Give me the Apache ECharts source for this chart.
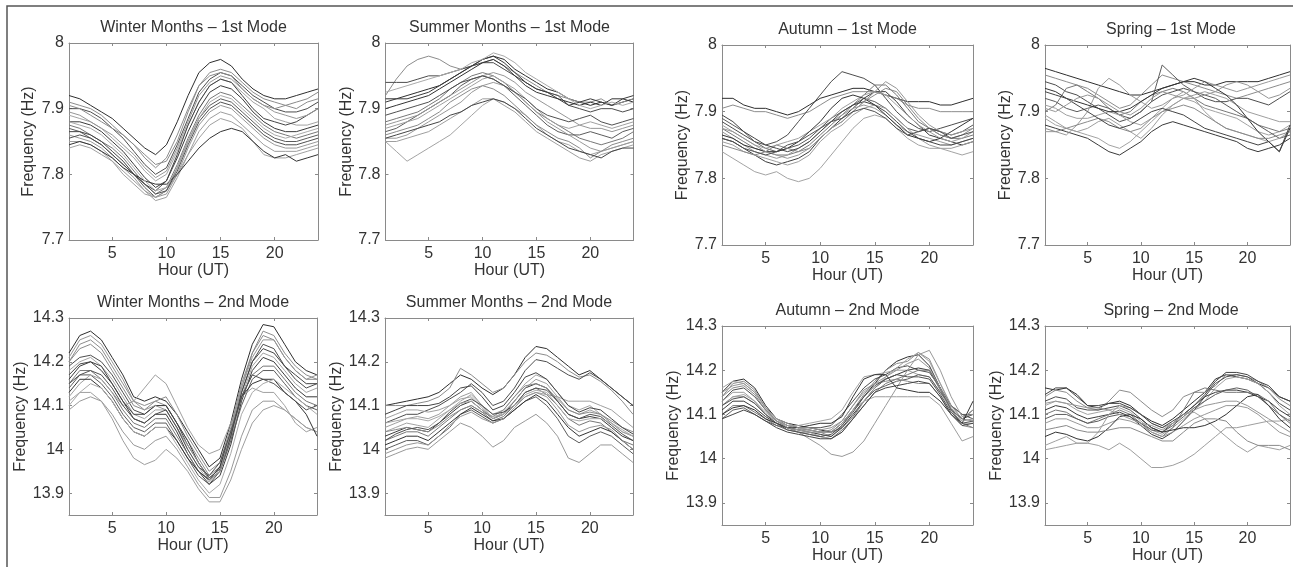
<!DOCTYPE html>
<html>
<head>
<meta charset="utf-8">
<title>Diurnal frequency variation - 1st and 2nd mode</title>
<script src="https://cdn.jsdelivr.net/npm/echarts@6/dist/echarts.min.js"></script>
<style>
html, body { margin: 0; padding: 0; background: #fff; }
#chart { width: 1293px; height: 567px; }
</style>
</head>
<body>
<div id="chart"></div>
<script>
// hour of day (UT)
var hours = [1, 2, 3, 4, 5, 6, 7, 8, 9, 10, 11, 12, 13, 14, 15, 16, 17, 18, 19, 20, 21, 22, 23, 24];

// Winter Months - 1st Mode (Hz)
var winter1st = [
  [7.92,7.915,7.905,7.895,7.885,7.87,7.855,7.84,7.83,7.845,7.88,7.92,7.955,7.97,7.975,7.965,7.945,7.93,7.92,7.915,7.915,7.92,7.925,7.93],
  [7.91,7.905,7.90,7.89,7.875,7.86,7.845,7.825,7.81,7.825,7.86,7.90,7.935,7.955,7.96,7.955,7.94,7.925,7.915,7.91,7.905,7.90,7.91,7.915],
  [7.90,7.90,7.895,7.885,7.87,7.855,7.835,7.815,7.80,7.81,7.845,7.885,7.925,7.945,7.955,7.95,7.935,7.92,7.91,7.90,7.895,7.895,7.90,7.91],
  [7.89,7.885,7.88,7.87,7.855,7.84,7.825,7.805,7.79,7.80,7.835,7.875,7.91,7.935,7.945,7.94,7.925,7.91,7.90,7.885,7.88,7.875,7.875,7.88],
  [7.88,7.88,7.875,7.865,7.85,7.835,7.815,7.795,7.78,7.79,7.825,7.865,7.90,7.925,7.935,7.93,7.915,7.895,7.88,7.87,7.865,7.865,7.87,7.875],
  [7.875,7.87,7.86,7.85,7.84,7.825,7.805,7.785,7.77,7.78,7.815,7.855,7.89,7.915,7.925,7.92,7.905,7.89,7.875,7.865,7.86,7.855,7.86,7.865],
  [7.87,7.865,7.855,7.845,7.83,7.815,7.80,7.78,7.765,7.775,7.81,7.85,7.885,7.905,7.915,7.91,7.895,7.88,7.865,7.855,7.85,7.85,7.855,7.86],
  [7.86,7.855,7.85,7.84,7.825,7.81,7.795,7.775,7.765,7.77,7.80,7.84,7.875,7.895,7.905,7.90,7.885,7.87,7.855,7.845,7.84,7.84,7.845,7.85],
  [7.85,7.85,7.845,7.835,7.82,7.805,7.79,7.775,7.76,7.765,7.795,7.83,7.865,7.885,7.895,7.89,7.875,7.86,7.845,7.835,7.835,7.835,7.84,7.845],
  [7.84,7.845,7.84,7.83,7.82,7.80,7.785,7.77,7.765,7.775,7.80,7.83,7.855,7.875,7.885,7.88,7.87,7.85,7.83,7.825,7.825,7.83,7.835,7.84],
  [7.845,7.85,7.845,7.835,7.825,7.81,7.80,7.79,7.785,7.785,7.80,7.82,7.84,7.855,7.865,7.87,7.865,7.85,7.835,7.825,7.83,7.82,7.825,7.83],
  [7.905,7.90,7.89,7.88,7.87,7.86,7.845,7.83,7.815,7.82,7.85,7.895,7.935,7.95,7.955,7.95,7.93,7.915,7.905,7.90,7.905,7.91,7.915,7.925],
  [7.865,7.865,7.86,7.85,7.835,7.82,7.80,7.785,7.775,7.79,7.83,7.875,7.91,7.935,7.945,7.94,7.92,7.90,7.885,7.88,7.875,7.88,7.89,7.90],
  [7.895,7.89,7.88,7.87,7.86,7.845,7.83,7.81,7.795,7.805,7.84,7.88,7.92,7.94,7.95,7.945,7.93,7.915,7.905,7.895,7.89,7.885,7.89,7.90],
  [7.855,7.86,7.855,7.845,7.83,7.815,7.80,7.785,7.77,7.775,7.805,7.845,7.88,7.90,7.91,7.905,7.89,7.875,7.86,7.85,7.845,7.845,7.85,7.855],
  [7.88,7.875,7.87,7.86,7.845,7.83,7.81,7.79,7.775,7.78,7.81,7.85,7.885,7.91,7.92,7.915,7.90,7.885,7.87,7.86,7.855,7.86,7.865,7.87]
];

// Summer Months - 1st Mode (Hz)
var summer1st = [
  [7.915,7.915,7.92,7.925,7.93,7.935,7.945,7.955,7.965,7.975,7.98,7.975,7.96,7.95,7.94,7.93,7.925,7.915,7.91,7.905,7.91,7.905,7.91,7.915],
  [7.92,7.945,7.965,7.975,7.98,7.975,7.965,7.96,7.965,7.97,7.975,7.965,7.955,7.945,7.935,7.925,7.92,7.915,7.91,7.91,7.915,7.905,7.91,7.915],
  [7.94,7.94,7.94,7.945,7.95,7.95,7.955,7.96,7.965,7.97,7.97,7.96,7.95,7.94,7.93,7.925,7.92,7.905,7.90,7.895,7.90,7.90,7.895,7.90],
  [7.85,7.835,7.82,7.83,7.84,7.85,7.86,7.875,7.89,7.905,7.915,7.91,7.90,7.89,7.875,7.86,7.85,7.845,7.835,7.83,7.835,7.84,7.845,7.85],
  [7.91,7.915,7.915,7.92,7.925,7.935,7.945,7.955,7.965,7.975,7.98,7.97,7.955,7.94,7.93,7.925,7.915,7.905,7.91,7.915,7.91,7.905,7.915,7.92],
  [7.88,7.885,7.89,7.895,7.905,7.915,7.93,7.94,7.95,7.955,7.95,7.94,7.925,7.91,7.895,7.885,7.875,7.865,7.855,7.85,7.845,7.85,7.855,7.865],
  [7.865,7.87,7.88,7.89,7.90,7.91,7.92,7.935,7.945,7.95,7.945,7.935,7.92,7.905,7.89,7.875,7.865,7.86,7.86,7.865,7.86,7.855,7.865,7.87],
  [7.855,7.855,7.86,7.87,7.88,7.89,7.90,7.91,7.925,7.935,7.94,7.935,7.925,7.91,7.895,7.88,7.87,7.86,7.85,7.84,7.835,7.84,7.845,7.85],
  [7.85,7.85,7.855,7.86,7.865,7.875,7.885,7.895,7.905,7.915,7.915,7.905,7.895,7.88,7.865,7.855,7.845,7.835,7.825,7.82,7.83,7.835,7.84,7.845],
  [7.87,7.875,7.88,7.885,7.895,7.905,7.915,7.925,7.935,7.945,7.95,7.94,7.93,7.915,7.90,7.885,7.875,7.87,7.875,7.88,7.875,7.87,7.875,7.88],
  [7.90,7.905,7.91,7.915,7.92,7.93,7.94,7.95,7.96,7.97,7.975,7.965,7.95,7.935,7.925,7.92,7.915,7.91,7.905,7.91,7.905,7.915,7.915,7.91],
  [7.86,7.865,7.87,7.875,7.885,7.895,7.91,7.92,7.93,7.935,7.93,7.92,7.905,7.89,7.875,7.865,7.855,7.85,7.84,7.825,7.835,7.845,7.85,7.855],
  [7.855,7.86,7.865,7.87,7.875,7.88,7.89,7.895,7.905,7.91,7.915,7.91,7.90,7.885,7.87,7.86,7.85,7.84,7.835,7.83,7.825,7.835,7.84,7.84],
  [7.875,7.88,7.885,7.89,7.90,7.91,7.92,7.93,7.94,7.95,7.955,7.95,7.94,7.925,7.915,7.905,7.895,7.885,7.875,7.87,7.87,7.865,7.87,7.875],
  [7.89,7.895,7.90,7.905,7.91,7.92,7.93,7.94,7.945,7.95,7.945,7.935,7.925,7.915,7.90,7.89,7.885,7.88,7.885,7.89,7.88,7.875,7.88,7.885],
  [7.925,7.93,7.935,7.94,7.945,7.95,7.955,7.96,7.97,7.975,7.985,7.98,7.97,7.955,7.945,7.935,7.925,7.915,7.905,7.90,7.905,7.91,7.905,7.91]
];

// Autumn - 1st Mode (Hz)
var autumn1st = [
  [7.92,7.92,7.91,7.905,7.905,7.90,7.895,7.90,7.91,7.92,7.925,7.93,7.935,7.935,7.93,7.925,7.92,7.915,7.915,7.915,7.91,7.91,7.915,7.92],
  [7.905,7.91,7.905,7.90,7.90,7.895,7.89,7.895,7.90,7.91,7.92,7.925,7.93,7.93,7.93,7.925,7.92,7.91,7.905,7.905,7.90,7.90,7.90,7.90],
  [7.885,7.875,7.865,7.855,7.85,7.855,7.865,7.885,7.905,7.925,7.945,7.96,7.955,7.95,7.94,7.92,7.90,7.885,7.875,7.87,7.875,7.88,7.885,7.89],
  [7.84,7.83,7.82,7.81,7.805,7.81,7.80,7.795,7.80,7.815,7.835,7.855,7.875,7.89,7.895,7.89,7.875,7.86,7.85,7.845,7.845,7.84,7.835,7.84],
  [7.86,7.855,7.845,7.835,7.825,7.82,7.825,7.83,7.84,7.86,7.875,7.89,7.905,7.92,7.93,7.93,7.915,7.895,7.88,7.865,7.86,7.855,7.85,7.855],
  [7.875,7.865,7.855,7.845,7.84,7.835,7.835,7.84,7.85,7.865,7.88,7.895,7.91,7.925,7.94,7.94,7.925,7.905,7.885,7.875,7.865,7.86,7.86,7.865],
  [7.89,7.88,7.87,7.855,7.845,7.84,7.845,7.85,7.86,7.875,7.89,7.90,7.91,7.92,7.915,7.905,7.89,7.875,7.87,7.875,7.87,7.865,7.87,7.88],
  [7.87,7.86,7.85,7.84,7.835,7.83,7.835,7.845,7.855,7.87,7.885,7.895,7.905,7.91,7.905,7.895,7.88,7.87,7.865,7.86,7.855,7.85,7.855,7.86],
  [7.855,7.85,7.84,7.835,7.83,7.825,7.82,7.825,7.835,7.855,7.87,7.88,7.895,7.905,7.91,7.905,7.89,7.875,7.86,7.85,7.845,7.845,7.85,7.855],
  [7.88,7.87,7.86,7.85,7.845,7.85,7.855,7.86,7.87,7.88,7.89,7.905,7.915,7.925,7.93,7.925,7.91,7.895,7.88,7.87,7.86,7.855,7.86,7.87],
  [7.865,7.86,7.85,7.845,7.84,7.84,7.845,7.855,7.87,7.885,7.905,7.92,7.925,7.92,7.91,7.895,7.88,7.865,7.86,7.855,7.86,7.87,7.88,7.89],
  [7.85,7.845,7.84,7.835,7.84,7.85,7.845,7.84,7.845,7.86,7.875,7.885,7.90,7.915,7.925,7.935,7.93,7.91,7.89,7.875,7.865,7.86,7.865,7.875],
  [7.895,7.885,7.87,7.86,7.85,7.845,7.84,7.845,7.855,7.87,7.885,7.90,7.91,7.915,7.91,7.90,7.885,7.87,7.86,7.855,7.85,7.85,7.855,7.86],
  [7.875,7.87,7.86,7.85,7.84,7.835,7.83,7.835,7.845,7.86,7.875,7.885,7.90,7.915,7.93,7.945,7.935,7.915,7.895,7.88,7.87,7.865,7.87,7.875],
  [7.86,7.855,7.845,7.84,7.835,7.84,7.85,7.855,7.865,7.875,7.885,7.89,7.90,7.905,7.90,7.89,7.875,7.865,7.87,7.875,7.87,7.86,7.865,7.87]
];

// Spring - 1st Mode (Hz)
var spring1st = [
  [7.965,7.96,7.955,7.95,7.945,7.94,7.935,7.93,7.925,7.925,7.93,7.935,7.94,7.945,7.945,7.94,7.94,7.945,7.945,7.945,7.945,7.95,7.955,7.96],
  [7.955,7.95,7.945,7.94,7.935,7.925,7.915,7.905,7.91,7.925,7.94,7.955,7.95,7.945,7.94,7.935,7.93,7.925,7.92,7.925,7.93,7.935,7.94,7.945],
  [7.945,7.94,7.93,7.925,7.915,7.905,7.895,7.885,7.89,7.90,7.915,7.925,7.93,7.935,7.93,7.92,7.915,7.915,7.92,7.92,7.915,7.91,7.92,7.93],
  [7.89,7.88,7.875,7.87,7.865,7.86,7.85,7.845,7.855,7.87,7.885,7.90,7.91,7.92,7.915,7.905,7.90,7.895,7.89,7.88,7.87,7.865,7.87,7.88],
  [7.88,7.875,7.87,7.865,7.86,7.85,7.84,7.835,7.845,7.855,7.87,7.88,7.885,7.88,7.875,7.87,7.865,7.86,7.855,7.845,7.84,7.845,7.85,7.86],
  [7.90,7.91,7.935,7.94,7.93,7.92,7.905,7.895,7.90,7.915,7.925,7.93,7.935,7.93,7.92,7.91,7.905,7.90,7.895,7.89,7.88,7.875,7.87,7.875],
  [7.92,7.915,7.905,7.90,7.905,7.91,7.905,7.895,7.89,7.90,7.915,7.97,7.955,7.94,7.93,7.925,7.92,7.91,7.90,7.89,7.88,7.87,7.86,7.865],
  [7.87,7.87,7.865,7.88,7.90,7.935,7.95,7.94,7.925,7.915,7.905,7.91,7.92,7.925,7.935,7.945,7.94,7.935,7.93,7.935,7.94,7.945,7.95,7.955],
  [7.895,7.885,7.875,7.87,7.875,7.885,7.89,7.88,7.87,7.86,7.875,7.895,7.91,7.92,7.925,7.93,7.925,7.92,7.91,7.90,7.895,7.89,7.885,7.885],
  [7.91,7.905,7.895,7.89,7.89,7.895,7.90,7.895,7.885,7.88,7.89,7.905,7.92,7.93,7.92,7.90,7.885,7.875,7.87,7.865,7.86,7.855,7.86,7.87],
  [7.935,7.93,7.92,7.915,7.91,7.905,7.90,7.90,7.905,7.915,7.925,7.935,7.94,7.945,7.95,7.945,7.935,7.925,7.91,7.89,7.87,7.855,7.84,7.875],
  [7.875,7.87,7.875,7.88,7.885,7.89,7.885,7.875,7.87,7.875,7.89,7.90,7.905,7.91,7.905,7.895,7.885,7.875,7.87,7.865,7.86,7.86,7.865,7.87],
  [7.93,7.925,7.92,7.91,7.90,7.89,7.88,7.875,7.88,7.89,7.90,7.905,7.90,7.895,7.885,7.875,7.87,7.865,7.86,7.855,7.85,7.855,7.84,7.88],
  [7.905,7.90,7.91,7.92,7.925,7.92,7.91,7.90,7.895,7.905,7.92,7.93,7.925,7.92,7.92,7.925,7.93,7.94,7.945,7.94,7.93,7.92,7.925,7.935]
];

// Winter Months - 2nd Mode (Hz)
var winter2nd = [
  [14.22,14.26,14.27,14.25,14.21,14.17,14.12,14.11,14.12,14.11,14.08,14.04,14.00,13.96,13.98,14.06,14.16,14.24,14.285,14.28,14.24,14.20,14.18,14.17],
  [14.20,14.24,14.25,14.23,14.19,14.15,14.11,14.10,14.11,14.10,14.06,14.02,13.98,13.94,13.96,14.04,14.14,14.22,14.27,14.26,14.22,14.19,14.17,14.16],
  [14.19,14.21,14.215,14.20,14.17,14.13,14.09,14.08,14.10,14.10,14.06,14.01,13.97,13.93,13.95,14.03,14.13,14.20,14.24,14.23,14.19,14.16,14.14,14.15],
  [14.18,14.20,14.21,14.19,14.16,14.12,14.08,14.07,14.09,14.09,14.05,14.00,13.96,13.925,13.95,14.02,14.12,14.19,14.22,14.21,14.18,14.15,14.13,14.14],
  [14.16,14.19,14.20,14.18,14.15,14.11,14.07,14.06,14.08,14.08,14.04,13.99,13.95,13.92,13.94,14.01,14.11,14.18,14.21,14.20,14.17,14.14,14.12,14.12],
  [14.15,14.18,14.18,14.16,14.13,14.09,14.06,14.05,14.07,14.07,14.03,13.99,13.95,13.93,13.96,14.03,14.12,14.17,14.19,14.19,14.16,14.13,14.11,14.10],
  [14.14,14.17,14.17,14.15,14.12,14.08,14.05,14.04,14.06,14.06,14.02,13.98,13.94,13.92,13.95,14.02,14.10,14.16,14.18,14.18,14.15,14.12,14.10,14.09],
  [14.09,14.11,14.12,14.11,14.08,14.04,14.01,14.00,14.02,14.03,14.00,13.96,13.92,13.89,13.89,13.95,14.03,14.09,14.11,14.11,14.09,14.07,14.05,14.04],
  [14.11,14.13,14.13,14.11,14.07,14.02,13.98,13.965,13.975,14.00,13.98,13.95,13.91,13.88,13.88,13.93,14.00,14.06,14.09,14.10,14.09,14.07,14.05,14.04],
  [14.12,14.15,14.17,14.16,14.13,14.10,14.11,14.14,14.17,14.15,14.10,14.05,14.01,13.99,14.00,14.06,14.12,14.14,14.13,14.13,14.10,14.06,14.04,14.05],
  [14.13,14.16,14.16,14.14,14.11,14.07,14.04,14.03,14.05,14.05,14.02,13.98,13.95,13.93,13.96,14.04,14.12,14.15,14.16,14.16,14.13,14.11,14.08,14.03],
  [14.20,14.23,14.24,14.22,14.18,14.14,14.10,14.09,14.11,14.12,14.08,14.03,13.99,13.95,13.97,14.05,14.15,14.22,14.26,14.25,14.21,14.18,14.16,14.16],
  [14.17,14.195,14.20,14.19,14.15,14.11,14.08,14.08,14.10,14.10,14.06,14.02,13.97,13.935,13.955,14.03,14.13,14.20,14.23,14.22,14.19,14.17,14.15,14.15],
  [14.21,14.25,14.26,14.24,14.20,14.16,14.11,14.09,14.10,14.09,14.05,14.01,13.97,13.93,13.95,14.04,14.14,14.21,14.25,14.25,14.21,14.18,14.16,14.17],
  [14.15,14.17,14.18,14.17,14.14,14.10,14.07,14.06,14.08,14.09,14.05,14.00,13.96,13.94,13.97,14.04,14.12,14.17,14.16,14.15,14.13,14.11,14.09,14.10],
  [14.10,14.13,14.15,14.14,14.11,14.07,14.04,14.03,14.05,14.05,14.01,13.97,13.93,13.90,13.92,13.99,14.08,14.13,14.15,14.16,14.14,14.12,14.10,14.08]
];

// Summer Months - 2nd Mode (Hz)
var summer2nd = [
  [14.10,14.105,14.11,14.115,14.12,14.13,14.15,14.17,14.16,14.14,14.125,14.14,14.17,14.21,14.235,14.23,14.21,14.19,14.17,14.18,14.16,14.14,14.12,14.10],
  [14.10,14.10,14.10,14.105,14.11,14.12,14.14,14.185,14.17,14.15,14.13,14.14,14.17,14.20,14.22,14.215,14.20,14.18,14.165,14.17,14.155,14.135,14.11,14.08],
  [14.06,14.07,14.08,14.08,14.09,14.10,14.115,14.13,14.15,14.13,14.10,14.11,14.14,14.18,14.205,14.20,14.185,14.17,14.16,14.175,14.16,14.14,14.12,14.10],
  [14.04,14.05,14.06,14.055,14.05,14.07,14.09,14.11,14.125,14.10,14.08,14.09,14.12,14.15,14.17,14.16,14.13,14.10,14.09,14.10,14.08,14.06,14.04,14.03],
  [14.03,14.04,14.05,14.045,14.04,14.06,14.08,14.10,14.11,14.09,14.07,14.08,14.11,14.14,14.15,14.14,14.11,14.08,14.07,14.075,14.07,14.05,14.03,14.02],
  [14.02,14.03,14.04,14.04,14.03,14.05,14.07,14.09,14.10,14.085,14.065,14.075,14.10,14.13,14.14,14.125,14.10,14.07,14.055,14.065,14.06,14.04,14.02,14.01],
  [14.00,14.01,14.02,14.02,14.01,14.03,14.05,14.08,14.09,14.075,14.06,14.07,14.09,14.11,14.12,14.10,14.07,14.03,14.015,14.03,14.04,14.03,14.01,13.99],
  [13.98,13.99,14.00,14.005,14.00,14.02,14.04,14.06,14.05,14.03,14.005,14.02,14.05,14.065,14.08,14.06,14.03,13.98,13.97,13.99,14.01,14.01,13.99,13.97],
  [14.05,14.06,14.07,14.075,14.07,14.08,14.10,14.12,14.13,14.10,14.07,14.085,14.11,14.14,14.16,14.15,14.12,14.09,14.08,14.09,14.08,14.06,14.04,14.03],
  [14.07,14.08,14.09,14.09,14.085,14.09,14.10,14.115,14.12,14.095,14.07,14.08,14.10,14.12,14.13,14.125,14.12,14.11,14.11,14.11,14.10,14.09,14.07,14.05],
  [14.01,14.02,14.03,14.03,14.02,14.04,14.06,14.08,14.095,14.08,14.065,14.07,14.09,14.11,14.125,14.11,14.08,14.05,14.03,14.04,14.05,14.04,14.02,14.00],
  [14.04,14.045,14.05,14.045,14.04,14.055,14.075,14.09,14.10,14.085,14.075,14.09,14.12,14.145,14.15,14.14,14.115,14.09,14.08,14.085,14.08,14.065,14.05,14.04],
  [14.08,14.09,14.10,14.10,14.10,14.105,14.12,14.14,14.145,14.12,14.09,14.10,14.13,14.165,14.175,14.16,14.13,14.10,14.085,14.095,14.09,14.07,14.05,14.035],
  [13.99,14.00,14.01,14.015,14.01,14.03,14.055,14.075,14.085,14.07,14.06,14.07,14.095,14.12,14.13,14.12,14.09,14.055,14.04,14.05,14.055,14.045,14.02,14.00],
  [14.02,14.035,14.045,14.05,14.045,14.06,14.085,14.105,14.115,14.10,14.08,14.085,14.10,14.13,14.14,14.135,14.11,14.08,14.07,14.08,14.075,14.055,14.035,14.02],
  [14.06,14.065,14.07,14.07,14.065,14.075,14.09,14.105,14.11,14.09,14.075,14.08,14.10,14.125,14.135,14.13,14.10,14.07,14.065,14.07,14.07,14.06,14.045,14.03]
];

// Autumn - 2nd Mode (Hz)
var autumn2nd = [
  [14.15,14.175,14.18,14.16,14.12,14.09,14.08,14.075,14.07,14.065,14.06,14.08,14.11,14.14,14.17,14.20,14.22,14.23,14.235,14.21,14.16,14.11,14.09,14.10],
  [14.14,14.17,14.175,14.155,14.115,14.09,14.075,14.07,14.065,14.06,14.05,14.075,14.11,14.145,14.175,14.20,14.215,14.22,14.24,14.225,14.17,14.12,14.09,14.085],
  [14.13,14.155,14.16,14.14,14.11,14.085,14.075,14.07,14.07,14.07,14.075,14.10,14.13,14.16,14.18,14.19,14.205,14.21,14.20,14.195,14.16,14.12,14.10,14.09],
  [14.12,14.14,14.145,14.13,14.105,14.085,14.075,14.075,14.08,14.085,14.09,14.11,14.15,14.185,14.19,14.195,14.20,14.20,14.19,14.185,14.15,14.11,14.08,14.08],
  [14.11,14.13,14.13,14.115,14.095,14.08,14.07,14.065,14.06,14.055,14.05,14.07,14.10,14.13,14.16,14.18,14.19,14.20,14.205,14.20,14.16,14.11,14.09,14.11],
  [14.10,14.12,14.12,14.105,14.09,14.075,14.065,14.06,14.055,14.05,14.045,14.065,14.09,14.12,14.15,14.17,14.18,14.19,14.20,14.20,14.155,14.11,14.08,14.07],
  [14.09,14.11,14.115,14.10,14.085,14.075,14.07,14.065,14.065,14.06,14.06,14.07,14.095,14.13,14.155,14.165,14.175,14.18,14.19,14.185,14.15,14.12,14.10,14.10],
  [14.12,14.14,14.14,14.125,14.10,14.08,14.07,14.06,14.045,14.03,14.01,14.005,14.015,14.04,14.08,14.12,14.16,14.20,14.235,14.245,14.20,14.14,14.095,14.10],
  [14.13,14.15,14.15,14.13,14.10,14.085,14.075,14.07,14.065,14.06,14.06,14.08,14.11,14.13,14.14,14.14,14.14,14.14,14.14,14.14,14.12,14.08,14.04,14.05],
  [14.16,14.175,14.17,14.15,14.115,14.085,14.07,14.065,14.06,14.05,14.045,14.06,14.09,14.13,14.16,14.185,14.205,14.225,14.24,14.22,14.17,14.12,14.09,14.11],
  [14.10,14.115,14.12,14.11,14.09,14.08,14.07,14.07,14.075,14.08,14.08,14.095,14.14,14.18,14.19,14.19,14.16,14.155,14.15,14.15,14.13,14.10,14.08,14.13],
  [14.14,14.16,14.165,14.145,14.11,14.085,14.07,14.06,14.06,14.06,14.065,14.085,14.12,14.155,14.17,14.175,14.18,14.175,14.17,14.17,14.14,14.10,14.075,14.07],
  [14.09,14.10,14.11,14.10,14.085,14.07,14.06,14.055,14.05,14.045,14.045,14.06,14.09,14.12,14.15,14.16,14.165,14.17,14.175,14.17,14.14,14.10,14.075,14.08],
  [14.15,14.165,14.17,14.15,14.115,14.09,14.08,14.07,14.07,14.065,14.07,14.085,14.12,14.15,14.17,14.185,14.20,14.215,14.225,14.205,14.16,14.115,14.085,14.09],
  [14.12,14.135,14.14,14.125,14.10,14.08,14.065,14.06,14.055,14.05,14.055,14.075,14.105,14.14,14.165,14.18,14.19,14.185,14.185,14.18,14.145,14.105,14.08,14.085]
];

// Spring - 2nd Mode (Hz)
var spring2nd = [
  [14.16,14.155,14.16,14.145,14.12,14.115,14.125,14.13,14.12,14.10,14.085,14.075,14.09,14.11,14.13,14.15,14.18,14.19,14.185,14.18,14.17,14.16,14.14,14.13],
  [14.14,14.155,14.15,14.13,14.115,14.11,14.13,14.155,14.15,14.13,14.11,14.095,14.11,14.14,14.15,14.15,14.165,14.19,14.19,14.185,14.175,14.16,14.135,14.12],
  [14.13,14.14,14.135,14.115,14.11,14.11,14.115,14.12,14.11,14.09,14.07,14.06,14.08,14.10,14.12,14.14,14.17,14.185,14.19,14.185,14.17,14.15,14.125,14.11],
  [14.12,14.13,14.125,14.11,14.10,14.105,14.11,14.115,14.105,14.085,14.065,14.055,14.07,14.09,14.11,14.13,14.16,14.18,14.185,14.18,14.17,14.15,14.12,14.10],
  [14.11,14.12,14.115,14.10,14.09,14.095,14.10,14.105,14.095,14.075,14.055,14.045,14.06,14.085,14.11,14.14,14.15,14.155,14.155,14.15,14.14,14.13,14.11,14.095],
  [14.10,14.11,14.105,14.09,14.08,14.09,14.10,14.11,14.10,14.08,14.06,14.05,14.07,14.11,14.15,14.16,14.155,14.15,14.15,14.15,14.145,14.13,14.10,14.08],
  [14.09,14.10,14.10,14.09,14.08,14.085,14.095,14.10,14.095,14.08,14.065,14.06,14.075,14.095,14.115,14.13,14.145,14.155,14.16,14.155,14.14,14.12,14.10,14.085],
  [14.08,14.09,14.09,14.08,14.07,14.07,14.08,14.09,14.085,14.075,14.06,14.05,14.06,14.075,14.09,14.10,14.11,14.12,14.12,14.115,14.10,14.08,14.06,14.05],
  [14.02,14.025,14.03,14.035,14.035,14.03,14.02,14.035,14.02,14.00,13.98,13.98,13.985,13.995,14.01,14.03,14.05,14.07,14.07,14.075,14.08,14.085,14.085,14.09],
  [14.03,14.04,14.05,14.035,14.035,14.06,14.10,14.12,14.115,14.10,14.08,14.07,14.08,14.10,14.105,14.09,14.07,14.05,14.03,14.015,14.03,14.025,14.02,14.03],
  [14.05,14.06,14.055,14.045,14.04,14.05,14.07,14.095,14.10,14.09,14.07,14.06,14.065,14.07,14.07,14.075,14.085,14.10,14.12,14.14,14.145,14.12,14.09,14.07],
  [14.065,14.07,14.075,14.065,14.06,14.06,14.065,14.07,14.07,14.06,14.05,14.04,14.04,14.06,14.08,14.09,14.09,14.085,14.06,14.04,14.03,14.03,14.03,14.02],
  [14.145,14.16,14.16,14.14,14.12,14.12,14.125,14.125,14.115,14.10,14.08,14.07,14.085,14.10,14.12,14.145,14.175,14.195,14.195,14.19,14.175,14.165,14.14,14.13],
  [14.125,14.13,14.125,14.12,14.115,14.115,14.11,14.10,14.09,14.08,14.075,14.065,14.08,14.10,14.11,14.12,14.125,14.13,14.13,14.12,14.105,14.09,14.075,14.06]
];

var panelTitles = [
  'Winter Months – 1st Mode', 'Summer Months – 1st Mode', 'Autumn – 1st Mode', 'Spring – 1st Mode',
  'Winter Months – 2nd Mode', 'Summer Months – 2nd Mode', 'Autumn – 2nd Mode', 'Spring – 2nd Mode'
];
var panelData = [winter1st, summer1st, autumn1st, spring1st, winter2nd, summer2nd, autumn2nd, spring2nd];

// layout of each subplot, px
var boxes = [
  { left: 69,   top: 43,  width: 249, height: 197, nameGap: 32 },
  { left: 385.5, top: 43, width: 248, height: 197, nameGap: 30 },
  { left: 722,  top: 45,  width: 251, height: 200, nameGap: 31 },
  { left: 1045, top: 45,  width: 252, height: 200, nameGap: 31 },
  { left: 69,   top: 318, width: 248, height: 197, nameGap: 37 },
  { left: 385,  top: 318, width: 248, height: 197, nameGap: 37 },
  { left: 722,  top: 326, width: 251, height: 199, nameGap: 39 },
  { left: 1045, top: 326, width: 252, height: 199, nameGap: 39 }
];

// dark and light greys, the outlier curves fall on the light ones
var shades = ['#2e2e2e', '#8c8c8c', '#4d4d4d', '#a3a3a3', '#3a3a3a', '#777777', '#5c5c5c', '#999999',
              '#9e9e9e', '#a0a0a0', '#333333', '#8a8a8a', '#444444', '#969696', '#505050', '#aaaaaa'];
var frameColor = '#8a8a8a';
var textColor = '#333';
var font = 'Liberation Sans, Arial, sans-serif';

var grids = [], xAxes = [], yAxes = [], titles = [], series = [];

function tenths(v) {
  var t = Math.round(v * 10);
  return Math.abs(v * 10 - t) < 1e-6 ? String(t / 10) : '';
}

boxes.forEach(function(b, i) {
  var firstMode = i < 4;
  grids.push({ left: b.left, top: b.top, width: b.width, height: b.height, show: false });

  titles.push({
    text: panelTitles[i],
    left: b.left + b.width / 2,
    top: b.top - 23,
    textAlign: 'center',
    padding: 0,
    textStyle: { fontFamily: font, fontSize: 16, fontWeight: 'normal', color: textColor }
  });

  ['bottom', 'top'].forEach(function(pos) {
    var main = pos === 'bottom';
    xAxes.push({
      type: 'value', gridIndex: i, position: pos, min: 1, max: 24,
      axisLine: { show: true, onZero: false, lineStyle: { color: frameColor, width: 1 } },
      axisTick: { show: true, inside: true, length: 3, lineStyle: { color: frameColor } },
      axisLabel: {
        show: main, margin: 6, color: textColor, fontFamily: font, fontSize: 16,
        formatter: function(v) { return v % 5 === 0 ? String(v) : ''; }
      },
      splitLine: { show: false },
      name: main ? 'Hour (UT)' : '', nameLocation: 'middle', nameGap: 22,
      nameTextStyle: { color: textColor, fontFamily: font, fontSize: 16 }
    });
  });

  ['left', 'right'].forEach(function(pos) {
    var main = pos === 'left';
    var ax = {
      type: 'value', gridIndex: i, position: pos,
      min: firstMode ? 7.7 : 13.85, max: firstMode ? 8 : 14.3,
      axisLine: { show: true, onZero: false, lineStyle: { color: frameColor, width: 1 } },
      axisTick: { show: true, inside: true, length: 3, lineStyle: { color: frameColor } },
      axisLabel: { show: main, margin: 5, color: textColor, fontFamily: font, fontSize: 16, formatter: tenths },
      splitLine: { show: false },
      name: main ? 'Frequency (Hz)' : '', nameLocation: 'middle', nameGap: b.nameGap,
      nameTextStyle: { color: textColor, fontFamily: font, fontSize: 16 }
    };
    if (firstMode) ax.interval = 0.1;
    yAxes.push(ax);
  });

  panelData[i].forEach(function(line, j) {
    series.push({
      type: 'line',
      xAxisIndex: 2 * i,
      yAxisIndex: 2 * i,
      data: hours.map(function(h, k) { return [h, line[k]]; }),
      symbol: 'none',
      silent: true,
      lineStyle: { width: 1, color: shades[j % shades.length] }
    });
  });
});

var option = {
  backgroundColor: '#fff',
  animation: false,
  title: titles,
  grid: grids,
  xAxis: xAxes,
  yAxis: yAxes,
  series: series,
  graphic: [{
    type: 'polyline',
    shape: { points: [[7, 567], [7, 6], [1293, 6]] },
    style: { stroke: '#555', lineWidth: 1.5, fill: null },
    silent: true
  }]
};

var chart = echarts.init(document.getElementById('chart'));
chart.setOption(option);

window.addEventListener('resize', function() {
  chart.resize();
});
</script>
</body>
</html>
